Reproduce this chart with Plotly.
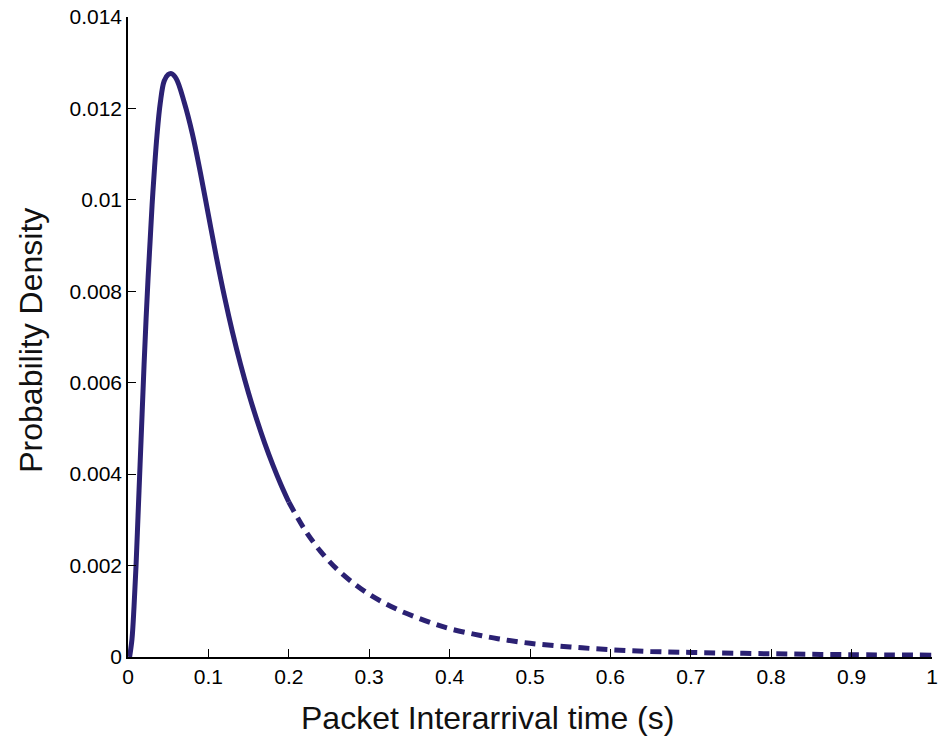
import plotly.graph_objects as go

# Solid part of the density curve
x_solid = [0.002, 0.005, 0.0075, 0.010, 0.0125, 0.015, 0.0175, 0.020, 0.0225, 0.025,
           0.0275, 0.030, 0.033, 0.036, 0.040, 0.045, 0.050, 0.054, 0.060, 0.070,
           0.080, 0.090, 0.100, 0.110, 0.120, 0.130, 0.140, 0.150, 0.160, 0.170,
           0.180, 0.190, 0.200]
y_solid = [0.0, 0.0004, 0.0011, 0.0020, 0.0031, 0.0042, 0.0053, 0.0064, 0.0074, 0.0083,
           0.0091, 0.0099, 0.0107, 0.0114, 0.0121, 0.0126, 0.01274, 0.01276, 0.01265, 0.01213,
           0.01145, 0.01060, 0.00967, 0.00874, 0.00788, 0.00710, 0.00640, 0.00577, 0.00520, 0.00468,
           0.00421, 0.00378, 0.00339]

# Dashed tail of the density curve
x_dash = [0.20, 0.22, 0.24, 0.26, 0.28, 0.30, 0.32, 0.34, 0.36, 0.38, 0.40, 0.43,
          0.46, 0.50, 0.55, 0.60, 0.65, 0.70, 0.80, 0.90, 1.00]
y_dash = [0.00339, 0.00278, 0.00230, 0.00192, 0.00162, 0.00137, 0.00117, 0.00100,
          0.00086, 0.00073, 0.00062, 0.00050, 0.00040, 0.00030, 0.00022, 0.00016,
          0.00012, 0.00010, 0.00007, 0.00005, 0.00004]

x_ticks = [0, 0.1, 0.2, 0.3, 0.4, 0.5, 0.6, 0.7, 0.8, 0.9, 1]
x_tick_labels = ["0", "0.1", "0.2", "0.3", "0.4", "0.5", "0.6", "0.7", "0.8", "0.9", "1"]
y_ticks = [0, 0.002, 0.004, 0.006, 0.008, 0.010, 0.012, 0.014]
y_tick_labels = ["0", "0.002", "0.004", "0.006", "0.008", "0.01", "0.012", "0.014"]

color = "#2b2173"
font_family = "Liberation Sans, Arial, sans-serif"

fig = go.Figure()
fig.add_trace(go.Scatter(x=x_solid, y=y_solid, mode="lines",
                         line=dict(color=color, width=5, shape="spline", smoothing=1.0),
                         showlegend=False, hoverinfo="skip"))
fig.add_trace(go.Scatter(x=x_dash, y=y_dash, mode="lines",
                         line=dict(color=color, width=5, shape="spline", smoothing=1.0,
                                   dash="11px,7px"),
                         showlegend=False, hoverinfo="skip"))

fig.update_layout(
    width=940, height=740,
    margin=dict(l=128, r=2, t=17, b=83),
    paper_bgcolor="white", plot_bgcolor="white",
    font=dict(family=font_family, color="black", size=21),
    xaxis=dict(range=[0, 1], tickvals=x_ticks, ticktext=x_tick_labels,
               showline=True, linecolor="black", linewidth=1.5, mirror=False,
               ticks="inside", ticklen=8, tickwidth=1.3, tickcolor="black",
               showgrid=False, zeroline=False, fixedrange=True,
               ticklabeloverflow="allow",
               tickfont=dict(size=21, family=font_family, color="black")),
    yaxis=dict(range=[0, 0.014], tickvals=y_ticks, ticktext=y_tick_labels,
               showline=True, linecolor="black", linewidth=1.5, mirror=False,
               ticks="inside", ticklen=8, tickwidth=1.3, tickcolor="black",
               showgrid=False, zeroline=False, fixedrange=True,
               ticklabeloverflow="allow",
               tickfont=dict(size=21, family=font_family, color="black")),
    annotations=[
        dict(text="Packet Interarrival time (s)", xref="paper", yref="paper",
             x=(490 - 128) / 810, y=-(718 - 657) / 640, xanchor="center", yanchor="middle",
             showarrow=False, font=dict(size=32, family=font_family, color="#111")),
        dict(text="Probability Density", xref="paper", yref="paper",
             x=-(128 - 30) / 810, y=0.5 - (340 - 337) / 640, xanchor="center", yanchor="middle",
             textangle=-90, showarrow=False,
             font=dict(size=32, family=font_family, color="#111")),
    ],
)

fig.write_html("out.html")
